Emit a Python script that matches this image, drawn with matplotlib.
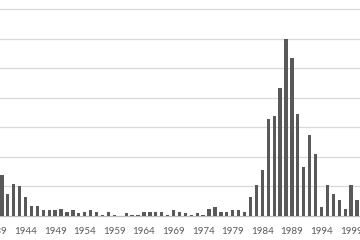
import numpy as np
import matplotlib
matplotlib.use("Agg")
import matplotlib.pyplot as plt

# 每年的数量
years = list(range(1940, 2001))
counts = [28, 15, 22, 20, 13, 7, 7, 4, 4, 4,
          5, 3, 4, 2, 3, 4, 3, 1, 3, 1,
          0, 2, 1, 1, 3, 3, 3, 3, 1, 4,
          3, 2, 1, 2, 1, 5, 6, 3, 3, 4,
          4, 3, 13, 21, 31, 66, 68, 87, 120, 107,
          69, 33, 55, 42, 6, 21, 15, 11, 5, 21,
          11]
tick_years = list(range(1939, 2000, 5))

plt.rcParams['font.family'] = ['Lato', 'DejaVu Sans']

fig = plt.figure(figsize=(3.6, 2.4), dpi=100)
# 图是截取的，坐标轴左边超出画布
ax = fig.add_axes([-20 / 360, 0.1, 380 / 360, 0.9])

ax.bar(years, counts, width=0.56, color="#595959", zorder=3)

ax.set_xlim(1936.31, 2000.5)
ax.set_ylim(0, 146.4)
ax.set_yticks(range(20, 141, 20))
ax.set_xticks(tick_years)
ax.set_xticklabels([str(y) for y in tick_years], fontsize=7, color="#595959")
ax.tick_params(axis="x", length=0, pad=8)
ax.tick_params(axis="y", length=0, labelleft=False)

ax.grid(axis="y", color="#d9d9d9", linewidth=0.9, zorder=0)
for side in ["top", "right", "left"]:
    ax.spines[side].set_visible(False)
ax.spines["bottom"].set_color("#bfbfbf")
ax.spines["bottom"].set_linewidth(0.9)

fig.savefig("out.png", dpi=100)
